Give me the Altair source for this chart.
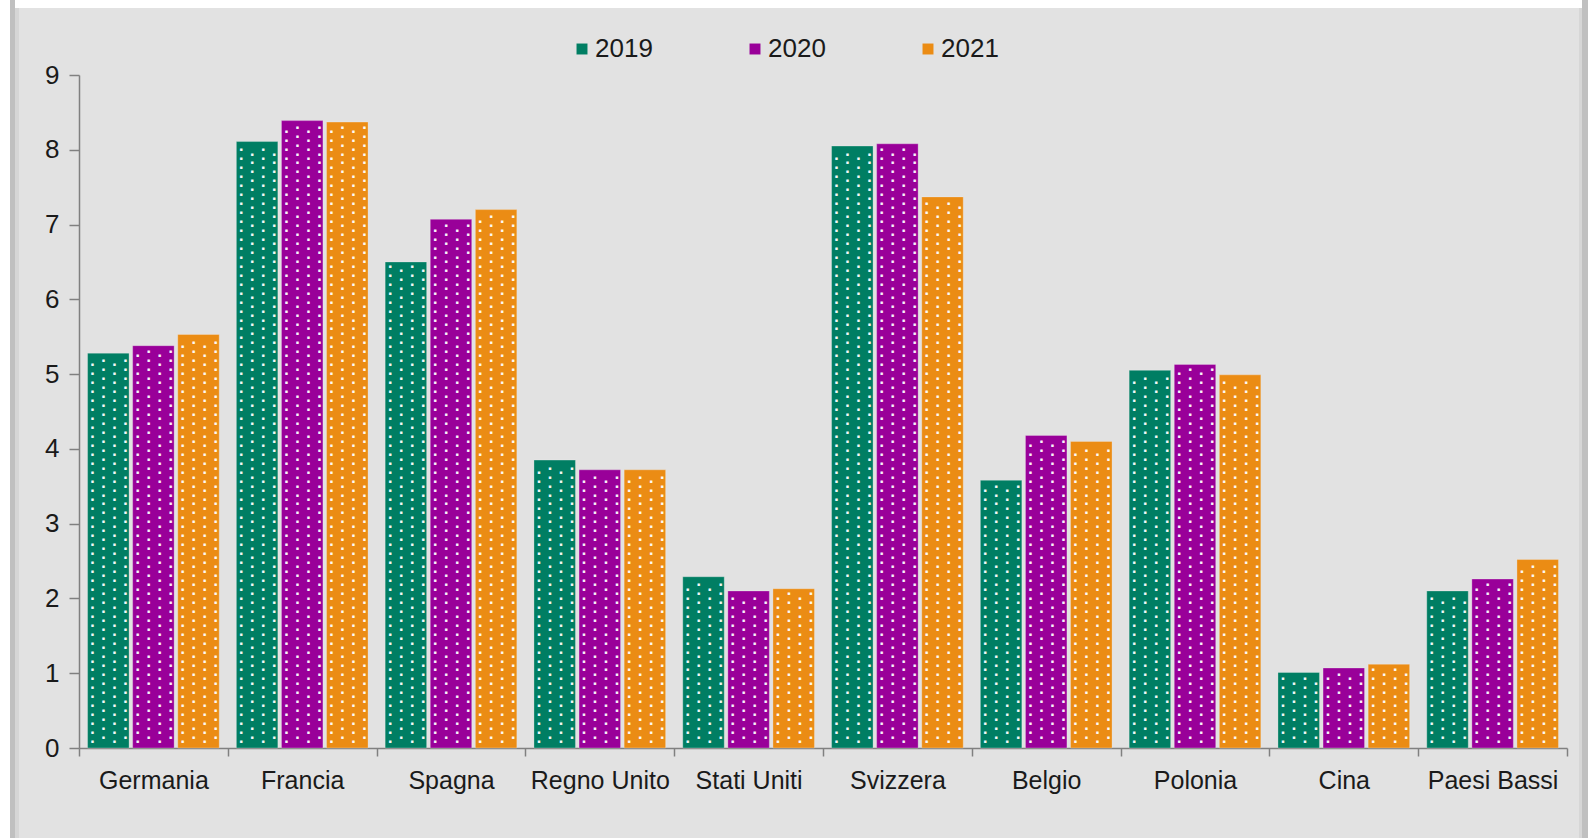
import altair as alt
import pandas as pd

countries = ["Germania", "Francia", "Spagna", "Regno Unito", "Stati Uniti",
             "Svizzera", "Belgio", "Polonia", "Cina", "Paesi Bassi"]
years = ["2019", "2020", "2021"]
v2019 = [5.28, 8.11, 6.50, 3.85, 2.29, 8.05, 3.58, 5.05, 1.01, 2.10]
v2020 = [5.38, 8.39, 7.07, 3.72, 2.10, 8.08, 4.18, 5.13, 1.07, 2.26]
v2021 = [5.53, 8.37, 7.20, 3.72, 2.13, 7.37, 4.10, 4.99, 1.12, 2.52]
colors = ["#007E63", "#990099", "#EB8C14"]

rows = []
for yr, vals in zip(years, [v2019, v2020, v2021]):
    for c, v in zip(countries, vals):
        rows.append({"paese": c, "anno": yr, "valore": v})
df = pd.DataFrame(rows)

W, H = 1488, 673
PL, PT = 79, 75
FONT = "Liberation Sans"

x_enc = alt.X("paese:N", sort=countries, title=None,
              scale=alt.Scale(paddingInner=0, paddingOuter=0),
              axis=alt.Axis(labelAngle=0, labelFontSize=25, labelFont=FONT,
                            labelColor="#1a1a1a", labelPadding=12,
                            tickBand="extent", tickSize=8, tickColor="#808080",
                            domainColor="#808080", domainWidth=1.5, tickWidth=1.5,
                            grid=False, labelLimit=200))
y_enc = alt.Y("valore:Q", title=None,
              scale=alt.Scale(domain=[0, 9], nice=False),
              axis=alt.Axis(values=list(range(10)), format="d", labelFontSize=26,
                            labelFont=FONT, labelColor="#1a1a1a", labelPadding=10,
                            tickSize=10, tickColor="#808080", domainColor="#808080",
                            domainWidth=1.5, tickWidth=1.5, grid=False))
xo_enc = alt.XOffset("anno:N", sort=years,
                     scale=alt.Scale(paddingInner=0.08, paddingOuter=0.19))
color_enc = alt.Color("anno:N", sort=years, title=None,
                      scale=alt.Scale(domain=years, range=colors),
                      legend=alt.Legend(orient="none", legendX=490, legendY=-39,
                                        direction="horizontal", symbolType="square",
                                        symbolSize=120, symbolStrokeWidth=0,
                                        symbolOpacity=1, labelFontSize=26,
                                        labelFont=FONT, labelColor="#1a1a1a",
                                        labelOffset=0, columnPadding=89))

bars = alt.Chart(df).mark_bar(stroke="#f0f0f0", strokeWidth=0.6, strokeOpacity=0.5).encode(
    x=x_enc, xOffset=xo_enc, y=y_enc, color=color_enc)

dot_layers = []
for dx, start in [(-16, 0.09), (-5, 0.15), (6, 0.09), (17, 0.15)]:
    dl = alt.Chart(df).transform_calculate(
        d=f"sequence({start}, datum.valore - 0.05, 0.12)"
    ).transform_flatten(["d"]).mark_text(
        text="■", fontSize=5, color="white", opacity=0.95, dx=dx,
        baseline="middle", align="center"
    ).encode(x=alt.X("paese:N", sort=countries), xOffset=alt.XOffset("anno:N", sort=years),
             y=alt.Y("d:Q"))
    dot_layers.append(dl)

one = pd.DataFrame({"k": [0]})
def deco(x1, x2, y1, y2, col):
    return alt.Chart(one).mark_rect(color=col).encode(
        x=alt.value(x1 - PL), x2=alt.value(x2 - PL),
        y=alt.value(y1 - PT), y2=alt.value(y2 - PT))

decos = [
    deco(0, 10, 0, 838, "#ffffff"),
    deco(10, 15, 0, 838, "#c0c0c0"),
    deco(15, 19, 8, 838, "#d6d6d6"),
    deco(15, 1582, 0, 8, "#ffffff"),
    deco(1579, 1582, 8, 838, "#d6d6d6"),
    deco(1582, 1588, 0, 838, "#c0c0c0"),
]

chart = alt.layer(*decos, bars, *dot_layers).properties(
    width=W, height=H,
    background="#e2e2e2",
    padding={"left": PL, "top": PT, "right": 1588 - PL - W, "bottom": 838 - PT - H},
    autosize=alt.AutoSizeParams(type="none"),
).configure_view(stroke=None).resolve_scale(xOffset="shared")

chart.save("out.html", embed_options={"renderer": "svg", "actions": False})
